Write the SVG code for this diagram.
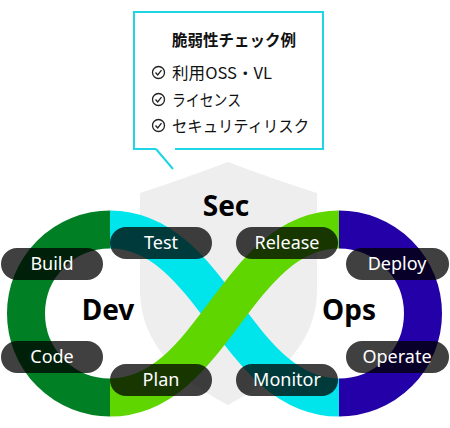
<svg xmlns="http://www.w3.org/2000/svg" width="450" height="428" viewBox="0 0 450 428">
<style>
.band{fill:none;stroke-width:38;stroke-linecap:butt}
.pill{fill:#000;fill-opacity:0.75}
.pt{font-family:"Noto Sans","Liberation Sans",sans-serif;font-size:18px;fill:#fff;text-anchor:middle}
.big{font-family:"Noto Sans","Liberation Sans",sans-serif;font-size:28px;font-weight:700;fill:#000;text-anchor:middle}
.jp{font-family:"Noto Sans CJK JP","Noto Sans",sans-serif;font-size:16px;font-weight:400;fill:#111}
.jpt{font-family:"Noto Sans CJK JP","Noto Sans",sans-serif;font-size:16px;font-weight:700;fill:#111}
.chk{fill:none;stroke:#222;stroke-width:1.3}
</style>
<defs>
<g id="check"><circle class="chk" cx="0" cy="0" r="6"/><path class="chk" d="M-3,0 L-0.8,2.4 L3,-2.4"/></g>
</defs>
<rect width="450" height="428" fill="#fff"/>
<g id="shield">
<path d="M140,193 Q180,180 228,162 Q276,180 317,193 L317,290 C317,350 266,385 228,405 C190,385 140,350 140,290 Z" fill="#eeeeee"/>
<text class="big" x="226" y="216">Sec</text>
</g>
<g id="connectors">
<path class="band" stroke="#007f24" d="M110,229.5 A84,84 0 0 0 110,397.5"/>
<path class="band" stroke="#2400a8" d="M339,229.5 A84,84 0 0 1 339,397.5"/>
<path class="band" stroke="#00e5ec" d="M110,229.5 C213,229.5 236,397.5 339,397.5"/>
<path class="band" stroke="#5fd600" d="M110,397.5 C213,397.5 236,229.5 339,229.5"/>
</g>
<g id="dev"><text class="big" x="108" y="320">Dev</text></g>
<g id="ops"><text class="big" x="349" y="320">Ops</text></g>
<g id="build"><rect class="pill" x="1" y="248" width="102" height="32" rx="16"/><text class="pt" x="52" y="270">Build</text></g>
<g id="test"><rect class="pill" x="110" y="227" width="102" height="32" rx="16"/><text class="pt" x="161" y="249">Test</text></g>
<g id="code"><rect class="pill" x="1" y="341" width="102" height="32" rx="16"/><text class="pt" x="52" y="363">Code</text></g>
<g id="plan"><rect class="pill" x="110" y="364" width="102" height="32" rx="16"/><text class="pt" x="161" y="386">Plan</text></g>
<g id="release"><rect class="pill" x="236" y="227" width="102" height="32" rx="16"/><text class="pt" x="287" y="249">Release</text></g>
<g id="deploy"><rect class="pill" x="346" y="248" width="103" height="32" rx="16"/><text class="pt" x="397" y="270">Deploy</text></g>
<g id="operate"><rect class="pill" x="346" y="341" width="103" height="32" rx="16"/><text class="pt" x="397" y="363">Operate</text></g>
<g id="monitor"><rect class="pill" x="236" y="364" width="102" height="32" rx="16"/><text class="pt" x="287" y="386">Monitor</text></g>
<g id="callout">
<rect x="134" y="12" width="189" height="137" fill="#fff"/>
<path d="M156,149 L134,149 L134,12 L323,12 L323,149 L175,149 M156,149 L173,169" fill="none" stroke="#1fd5e3" stroke-width="2"/>
<text class="jpt" x="172" y="45.5" textLength="124" lengthAdjust="spacingAndGlyphs">脆弱性チェック例</text>
<use href="#check" x="158.5" y="72.5"/>
<text class="jp" x="172" y="78.5" textLength="100" lengthAdjust="spacingAndGlyphs">利用OSS・VL</text>
<use href="#check" x="158.5" y="99.5"/>
<text class="jp" x="172" y="105.5" textLength="69" lengthAdjust="spacingAndGlyphs">ライセンス</text>
<use href="#check" x="158.5" y="125.5"/>
<text class="jp" x="172" y="131.5" textLength="137" lengthAdjust="spacingAndGlyphs">セキュリティリスク</text>
</g>
</svg>
